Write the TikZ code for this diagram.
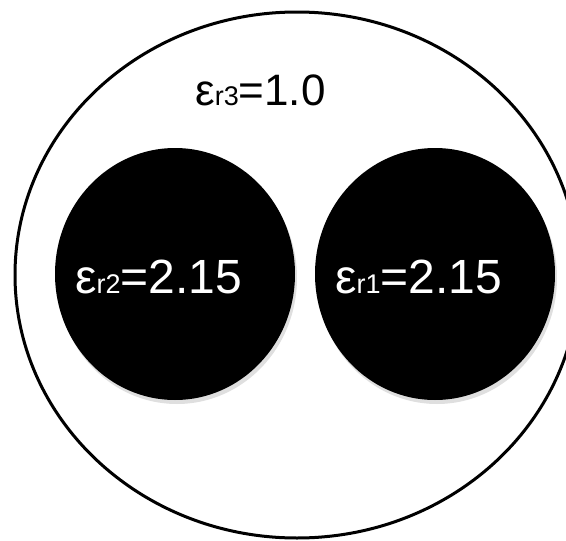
\documentclass[tikz,border=0pt]{standalone}
\usepackage{fontspec}
\setmainfont{Liberation Sans}
\usetikzlibrary{shapes.geometric,shadows}
\tikzset{
  kulso/.style={ellipse,draw,line width=3pt,inner sep=0pt},
  mag/.style={ellipse,fill=black,inner sep=0pt,minimum width=240pt,minimum height=252pt,
    drop shadow={opacity=0.25,shadow xshift=2pt,shadow yshift=-4pt}},
  felirat/.style={inner sep=0pt,anchor=base west},
}
\newcommand{\erel}[3]{{\fontsize{#2}{#2}\selectfont ε}{\fontsize{#3}{#3}\selectfont r#1}}

\begin{document}
\begin{tikzpicture}[x=1pt,y=-1pt]
  \useasboundingbox (0,0) rectangle (566,541);
  \clip (0,0) rectangle (566,541);
  \node[kulso,minimum width=564pt,minimum height=526pt] (k) at (297,275) {};
  \node[mag] (d2) at (175,274) {};
  \node[mag] (d1) at (435,274) {};
  \node[felirat] (t3) at (195,105) {\erel{3}{44}{27}{\fontsize{44}{44}\selectfont =1.0}};
  \node[felirat,text=white] (t2) at (75,293) {\erel{2}{48}{27}{\fontsize{48}{48}\selectfont =2.15}};
  \node[felirat,text=white] (t1) at (335,293) {\erel{1}{48}{27}{\fontsize{48}{48}\selectfont =2.15}};
\end{tikzpicture}
\end{document}
